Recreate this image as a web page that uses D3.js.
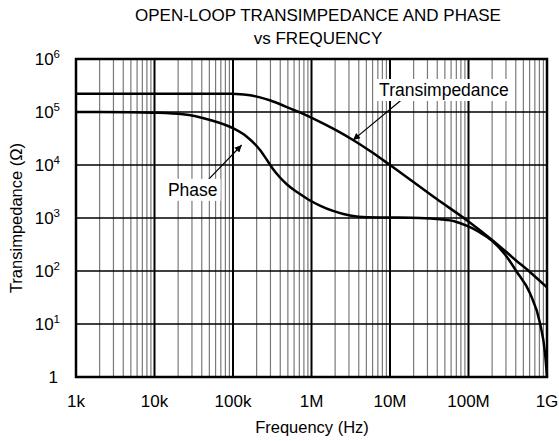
<!DOCTYPE html>
<html>
<head>
<meta charset="utf-8">
<script src="https://cdn.jsdelivr.net/npm/d3@7"></script>
<style>
  body { margin: 0; background: #fff; }
  text { font-family: "Liberation Sans", Arial, sans-serif; fill: #000; }
</style>
</head>
<body>
<div id="chart"></div>
<script>
// axis ticks
const xTicks = [1e3, 1e4, 1e5, 1e6, 1e7, 1e8, 1e9];
const xTickLabels = ["1k", "10k", "100k", "1M", "10M", "100M", "1G"];
const yTicks = [1, 1e1, 1e2, 1e3, 1e4, 1e5, 1e6];
const yTickExps = ["", "1", "2", "3", "4", "5", "6"];

// transimpedance curve (Hz, ohm)
const transFreq = [1e3, 1e4, 1e5, 1.1e5, 1.65e5, 2.2e5, 3e5, 4e5, 5.3e5, 7.1e5, 1.28e6, 2.05e6, 3.38e6, 5.7e6, 1e7, 3.9e7, 1e8, 2e8, 4e8, 6e8, 1e9];
const transVal  = [2.2e5, 2.2e5, 2.2e5, 2.19e5, 2.07e5, 1.89e5, 1.65e5, 1.4e5, 1.17e5, 9.8e4, 6.5e4, 4.54e4, 2.96e4, 1.8e4, 1e4, 2.3e3, 860, 385, 160, 97, 49];

// phase curve (plotted on same axis)
const phaseFreq = [1e3, 5e3, 9.7e3, 2.3e4, 5.1e4, 1.01e5, 1.5e5, 2.21e5, 2.71e5, 3.23e5, 3.97e5, 4.88e5, 5.81e5, 7.14e5, 9.57e5, 1.28e6, 1.88e6, 3.09e6, 5.09e6, 1e7, 2.4e7, 4.33e7, 6.73e7, 9.96e7, 1.4e8, 1.98e8, 2.92e8, 4.11e8, 6.07e8, 8.15e8, 9.44e8, 1e9];
const phaseVal  = [1e5, 9.9e4, 9.7e4, 9.05e4, 7.06e4, 4.9e4, 3.42e4, 1.92e4, 1.24e4, 8.4e3, 5.81e3, 4.29e3, 3.49e3, 2.84e3, 2.14e3, 1.72e3, 1.36e3, 1.11e3, 1.03e3, 1.02e3, 1e3, 945, 859, 692, 533, 376, 205, 97, 38, 10.3, 2.8, 1];

// annotations: label anchor, arrow start, arrow tip (data space)
const labelText = ["Transimpedance", "Phase"];
const labelAt   = [[4.87e7, 2.6e5], [3.07e4, 3.4e3]];
const arrowFrom = [[1.55e7, 1.92e5], [4.27e4, 4.37e3]];
const arrowTo   = [[3.38e6, 2.95e4], [1.29e5, 2.38e4]];

const msm = { width: 559, height: 441, left: 76, right: 547, top: 59, bottom: 377 };

const svg = d3.select("#chart").append("svg")
    .attr("width", msm.width)
    .attr("height", msm.height);

const xScale = d3.scaleLog().domain([1e3, 1e9]).range([msm.left, msm.right]);
const yScale = d3.scaleLog().domain([1, 1e6]).range([msm.bottom, msm.top]);

// minor vertical grid lines (2..9 in each decade)
let minor = [];
for (let d = 1e3; d < 1e9; d *= 10) {
    for (let k = 2; k <= 9; k++) minor.push(d * k);
}
svg.append("g").selectAll("line")
    .data(minor)
    .enter().append("line")
    .attr("x1", d => xScale(d)).attr("x2", d => xScale(d))
    .attr("y1", msm.top).attr("y2", msm.bottom)
    .attr("stroke", "#7a7a7a")
    .attr("stroke-width", 1.2);

// major vertical grid lines
svg.append("g").selectAll("line")
    .data(xTicks)
    .enter().append("line")
    .attr("x1", d => xScale(d)).attr("x2", d => xScale(d))
    .attr("y1", msm.top).attr("y2", msm.bottom)
    .attr("stroke", "#000")
    .attr("stroke-width", 2);

// horizontal grid lines
svg.append("g").selectAll("line")
    .data(yTicks)
    .enter().append("line")
    .attr("x1", msm.left).attr("x2", msm.right)
    .attr("y1", d => yScale(d)).attr("y2", d => yScale(d))
    .attr("stroke", "#000")
    .attr("stroke-width", 1.3);

// frame
svg.append("rect")
    .attr("x", msm.left).attr("y", msm.top)
    .attr("width", msm.right - msm.left)
    .attr("height", msm.bottom - msm.top)
    .attr("fill", "none")
    .attr("stroke", "#000")
    .attr("stroke-width", 2.5);

// curves
const line = d3.line()
    .x(d => xScale(d[0]))
    .y(d => yScale(d[1]))
    .curve(d3.curveMonotoneX);

svg.append("path")
    .datum(d3.zip(transFreq, transVal))
    .attr("fill", "none").attr("stroke", "#000").attr("stroke-width", 2.5)
    .attr("d", line);
svg.append("path")
    .datum(d3.zip(phaseFreq, phaseVal))
    .attr("fill", "none").attr("stroke", "#000").attr("stroke-width", 2.5)
    .attr("d", line);

// arrow marker
svg.append("defs").append("marker")
    .attr("id", "arrow")
    .attr("viewBox", "0 0 10 10")
    .attr("refX", 10).attr("refY", 5)
    .attr("markerWidth", 12).attr("markerHeight", 7)
    .attr("markerUnits", "userSpaceOnUse")
    .attr("orient", "auto")
    .append("path")
    .attr("d", "M0,0 L10,5 L0,10 z")
    .attr("fill", "#000");

// annotations with white boxes
labelText.forEach((t, i) => {
    svg.append("line")
        .attr("x1", xScale(arrowFrom[i][0])).attr("y1", yScale(arrowFrom[i][1]))
        .attr("x2", xScale(arrowTo[i][0])).attr("y2", yScale(arrowTo[i][1]))
        .attr("stroke", "#000").attr("stroke-width", 1.2)
        .attr("marker-end", "url(#arrow)");
    let g = svg.append("g");
    let txt = g.append("text")
        .attr("x", xScale(labelAt[i][0]))
        .attr("y", yScale(labelAt[i][1]))
        .attr("text-anchor", "middle")
        .attr("dominant-baseline", "central")
        .style("font-size", "17.5px")
        .text(t);
    let bb = txt.node().getBBox();
    g.insert("rect", "text")
        .attr("x", bb.x - 3).attr("y", bb.y - 1)
        .attr("width", bb.width + 6).attr("height", bb.height + 2)
        .attr("fill", "#fff");
});

// x tick labels
svg.append("g").selectAll("text")
    .data(xTicks)
    .enter().append("text")
    .attr("x", d => xScale(d))
    .attr("y", 407)
    .attr("text-anchor", "middle")
    .style("font-size", "17px")
    .text((d, i) => xTickLabels[i]);

// y tick labels with superscripts
yTicks.forEach((d, i) => {
    let t = svg.append("text")
        .attr("x", 60)
        .attr("y", yScale(d) + 6)
        .attr("text-anchor", "end")
        .style("font-size", "17px");
    if (yTickExps[i] === "") {
        t.attr("x", 58).text("1");
    } else {
        t.append("tspan").text("10");
        t.append("tspan").attr("dy", -7).style("font-size", "11.5px").text(yTickExps[i]);
    }
});

// title and axis labels
svg.append("text")
    .attr("x", 318).attr("y", 21)
    .attr("text-anchor", "middle")
    .style("font-size", "17px")
    .text("OPEN-LOOP TRANSIMPEDANCE AND PHASE");
svg.append("text")
    .attr("x", 318).attr("y", 44)
    .attr("text-anchor", "middle")
    .style("font-size", "17px")
    .text("vs FREQUENCY");
svg.append("text")
    .attr("x", 312).attr("y", 433)
    .attr("text-anchor", "middle")
    .style("font-size", "16.5px")
    .text("Frequency (Hz)");
svg.append("text")
    .attr("transform", "translate(22," + ((msm.top + msm.bottom) / 2) + ") rotate(-90)")
    .attr("text-anchor", "middle")
    .style("font-size", "16.5px")
    .text("Transimpedance (Ω)");
</script>
</body>
</html>
